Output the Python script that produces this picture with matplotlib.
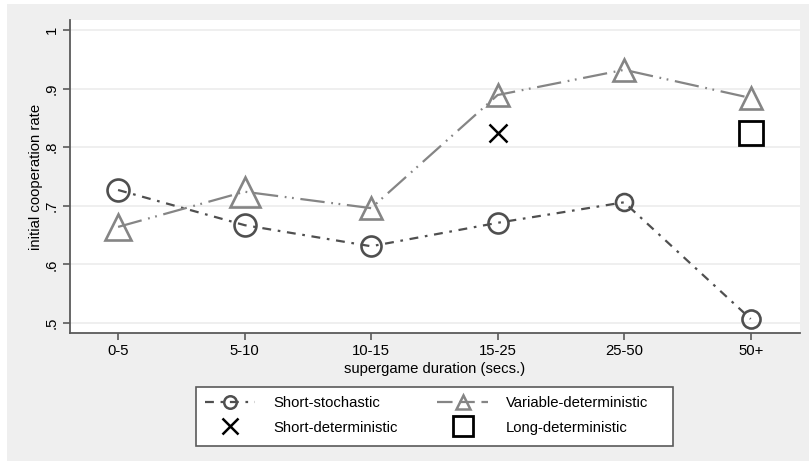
import matplotlib
matplotlib.use("Agg")
import matplotlib.pyplot as plt
from matplotlib.lines import Line2D
from matplotlib.patches import Rectangle

plt.rcParams['font.family'] = ['Liberation Sans', 'DejaVu Sans']

# data
durations = ['0-5', '5-10', '10-15', '15-25', '25-50', '50+']
short_stochastic = [0.727, 0.667, 0.631, 0.671, 0.706, 0.507]
variable_deterministic = [0.664, 0.724, 0.696, 0.889, 0.932, 0.884]
short_deterministic_x = ['15-25']
short_deterministic = [0.824]
long_deterministic_x = ['50+']
long_deterministic = [0.824]
yticks = [0.5, 0.6, 0.7, 0.8, 0.9, 1.0]
ytick_labels = ['.5', '.6', '.7', '.8', '.9', '1']

# marker sizes differ a little from point to point in the original
circle_ms = [15.8, 15.8, 14.4, 14.4, 12.2, 13.0]
triangle_ms = [18.7, 20.9, 16.5, 16.5, 16.5, 16.5]

dark = '#4f4f4f'
mid = '#858585'
axis_col = '#5a5a5a'
fs = 10.7
ss_dash = (4, 3, 1.2, 3)
vd_dash = (11, 3, 0.8, 2.5, 0.8, 3)

fig = plt.figure(figsize=(8.09, 4.61), dpi=100, facecolor='white')
fig.patches.append(Rectangle((7 / 809, 0), 1, 1 - 4 / 461, transform=fig.transFigure,
                             facecolor='#efefef', edgecolor='none', zorder=-10))
ax = fig.add_axes([70 / 809, 1 - 333 / 461, 730 / 809, 313 / 461])
ax.set_facecolor('white')

xpos = list(range(len(durations)))

# lines
ax.plot(xpos, short_stochastic, color=dark, lw=1.6, dashes=ss_dash, zorder=3)
ax.plot(xpos, variable_deterministic, color=mid, lw=1.6, dashes=vd_dash, zorder=3)

# markers
for x, y, ms in zip(xpos, short_stochastic, circle_ms):
    ax.plot([x], [y], marker='o', ms=ms, mfc='none', mec=dark, mew=1.9, ls='none', zorder=4)
for x, y, ms in zip(xpos, variable_deterministic, triangle_ms):
    ax.plot([x], [y], marker='^', ms=ms, mfc='none', mec=mid, mew=1.9, ls='none', zorder=4)

sd_x = [durations.index(d) for d in short_deterministic_x]
ld_x = [durations.index(d) for d in long_deterministic_x]
ax.plot(sd_x, short_deterministic, marker='x', ms=12.5, mec='black', mew=1.8, ls='none', zorder=4)
ax.plot(ld_x, long_deterministic, marker='s', ms=17, mfc='none', mec='black', mew=2, ls='none', zorder=4)

ax.set_xlim(-0.38, 5.39)
ax.set_ylim(0.483, 1.017)
ax.set_xticks(xpos)
ax.set_xticklabels(durations, fontsize=fs)
ax.set_yticks(yticks)
ax.set_yticklabels(ytick_labels, fontsize=fs, rotation=90, va='center')
ax.grid(axis='y', color='#ececec', lw=1.2)
ax.set_axisbelow(True)

for side in ['top', 'right']:
    ax.spines[side].set_visible(False)
for side in ['left', 'bottom']:
    ax.spines[side].set_color(axis_col)
    ax.spines[side].set_linewidth(1.3)
ax.tick_params(axis='both', direction='out', length=5, width=1.2, color=axis_col, pad=3)

ax.set_xlabel('supergame duration (secs.)', fontsize=fs, labelpad=3)
ax.set_ylabel('initial cooperation rate', fontsize=fs, labelpad=1)

# legend: frame drawn separately so the right margin can be wider than the left
fig.patches.append(Rectangle((196 / 809, 1 - 446 / 461), 477 / 809, 59 / 461,
                             transform=fig.transFigure, facecolor='white',
                             edgecolor=axis_col, lw=1.2, zorder=-5))
handles = [
    Line2D([], [], color=dark, lw=1.6, dashes=ss_dash, marker='o', ms=9, mfc='none', mec=dark, mew=1.8),
    Line2D([], [], marker='x', ms=11, mec='black', mew=1.8, ls='none'),
    Line2D([], [], color=mid, lw=1.6, dashes=(7, 3), marker='^', ms=10, mfc='none', mec=mid, mew=1.8),
    Line2D([], [], marker='s', ms=15, mfc='none', mec='black', mew=2, ls='none'),
]
labels = ['Short-stochastic', 'Short-deterministic', 'Variable-deterministic', 'Long-deterministic']
leg = fig.legend(handles, labels, ncol=2, loc='center',
                 bbox_to_anchor=(196 / 809, 1 - 445 / 461, 461 / 809, 59 / 461),
                 mode='expand', fontsize=fs, frameon=False,
                 handlelength=3.4, handletextpad=1.2, labelspacing=0.7,
                 borderaxespad=0, borderpad=0.6, columnspacing=2.6)

fig.savefig('out.png', dpi=100, facecolor=fig.get_facecolor())
